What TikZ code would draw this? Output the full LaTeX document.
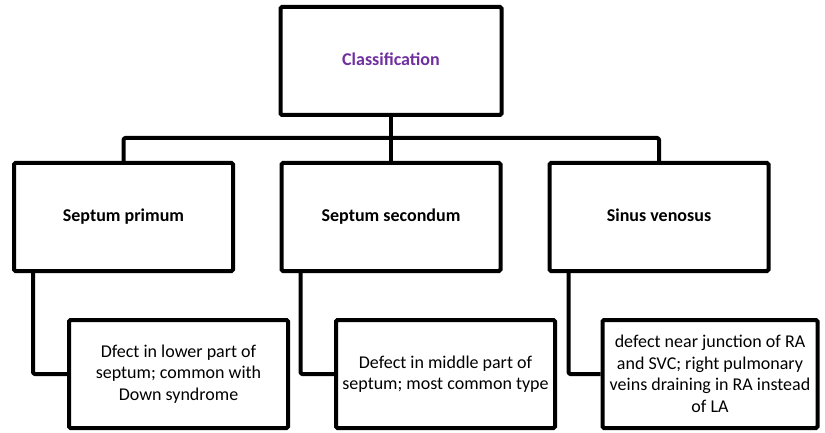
\documentclass[tikz,border=0pt]{standalone}
\usepackage{fontspec}
\setmainfont{Carlito}
\definecolor{clspurple}{HTML}{7030A0}
\begin{document}
\begin{tikzpicture}[x=1pt,y=-1pt,
  box/.style={draw=black, line width=4pt, rounded corners=1.5pt, fill=white,
    minimum width=219pt, minimum height=108pt, inner sep=2pt, align=center,
    font=\fontsize{18}{21.5}\selectfont},
  headbox/.style={box, font=\fontsize{18}{21.5}\selectfont\bfseries},
  link/.style={draw=black, line width=4pt, line join=round, rounded corners=1.5pt}]
\useasboundingbox (0,0) rectangle (825,433);
\node[headbox, text=clspurple, minimum width=221pt] (top) at (391,61) {\strut Classification};
\node[headbox] (c1) at (123.5,217) {\strut Septum primum};
\node[headbox] (c2) at (391,217) {\strut Septum secondum};
\node[headbox] (c3) at (659,217) {\strut Sinus venosus};
\node[box] (d1) at (178.5,374) {Dfect in lower part of\\septum; common with\\Down syndrome};
\node[box] (d2) at (445.5,374) {Defect in middle part of\\septum; most common type};
\node[box, minimum width=215pt] (d3) at (710,374) {defect near junction of RA\\and SVC; right pulmonary\\veins draining in RA instead\\of LA};
\coordinate (bar) at (391,138);
\draw[link] (top.south) -- (c2.north);
\draw[link] (c1.north) -- (c1.north |- bar) -- (c3.north |- bar) -- (c3.north);
\draw[link] ([xshift=21pt]c1.south west) |- (d1.west);
\draw[link] ([xshift=21pt]c2.south west) |- (d2.west);
\draw[link] ([xshift=21pt]c3.south west) |- (d3.west);
\end{tikzpicture}
\end{document}
